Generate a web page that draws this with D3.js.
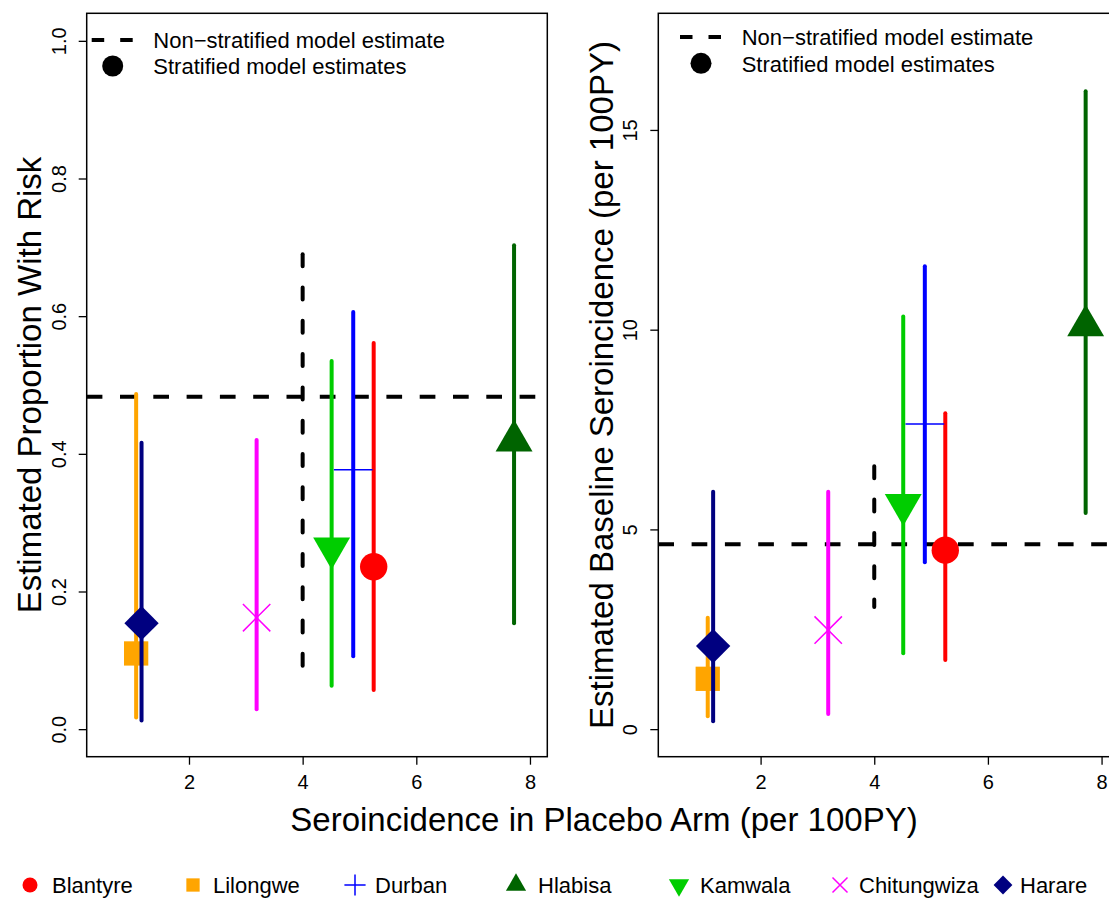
<!DOCTYPE html>
<html><head><meta charset="utf-8">
<script src="https://cdn.jsdelivr.net/npm/d3@7/dist/d3.min.js"></script>
<style>
body{margin:0;background:#fff}
text{font-family:"Liberation Sans",Arial,Helvetica,sans-serif;fill:#000}
</style>
</head><body>
<svg id="chart" width="1109" height="898"></svg>
<script>
// ---------------- data ----------------
const sites = ["Blantyre","Lilongwe","Durban","Hlabisa","Kamwala","Chitungwiza","Harare"];
const siteColors = ["#FF0000","#FFA500","#0000FF","#006400","#00CD00","#FF00FF","#000080"];
const siteShapes = ["circle","square","plus","triangleUp","triangleDown","cross","diamond"];
// seroincidence in placebo arm (per 100PY)
const placeboInc = [5.25, 1.07, 4.89, 7.72, 4.51, 3.19, 1.165];
// left panel: estimated proportion with risk
const propEst = [0.236, 0.110, 0.377, 0.419, 0.263, 0.162, 0.154];
const propLo  = [0.057, 0.017, 0.106, 0.154, 0.063, 0.029, 0.0125];
const propHi  = [0.561, 0.487, 0.606, 0.703, 0.535, 0.420, 0.416];
// right panel: estimated baseline seroincidence
const baseEst = [4.48, 1.26, 7.64, 10.10, 5.62, 2.48, 2.08];
const baseLo  = [1.73, 0.32, 4.18, 5.41, 1.90, 0.38, 0.20];
const baseHi  = [7.91, 2.79, 11.59, 15.97, 10.33, 5.94, 5.94];
// non-stratified model estimate
const overallInc = 4.0;
const propOverall = {est: 0.483, lo: 0.080, hi: 0.690};
const baseOverall = {est: 4.63, lo: 3.06, hi: 6.58};
// tick labels
const xTicks = [2, 4, 6, 8];
const propTicks = [0, 0.2, 0.4, 0.6, 0.8, 1.0];
const baseTicks = [0, 5, 10, 15];
const legendLabels = ["Non\u2212stratified model estimate", "Stratified model estimates"];

// ---------------- layout ----------------
const svg = d3.select("#chart");
svg.append("rect").attr("width",1109).attr("height",898).attr("fill","#fff");

const plotTop = 13.3, plotBottom = 756.7;
const panels = [
  {left: 86.7, right: 547.3, ydom: [-0.04, 1.04], est: propEst, lo: propLo, hi: propHi,
   overall: propOverall, ticks: propTicks, fmt: d3.format(".1f"),
   title: "Estimated Proportion With Risk", titleX: 41, legDashY: 40, legCircY: 66, legTextY: [47.5, 74],
   legDashX: 91.7, legCircX: 112.7, legTextX: 153.3},
  {left: 658.3, right: 1118.9, ydom: [-0.69, 17.92], est: baseEst, lo: baseLo, hi: baseHi,
   overall: baseOverall, ticks: baseTicks, fmt: d3.format("d"),
   title: "Estimated Baseline Seroincidence (per 100PY)", titleX: 613, legDashY: 37, legCircY: 63.3, legTextY: [45, 71.5],
   legDashX: 680, legCircX: 701, legTextX: 741.7}
];

function marker(g, shape, x, y, s, color) {
  if (shape === "circle") {
    g.append("circle").attr("cx", x).attr("cy", y).attr("r", s).attr("fill", color);
  } else if (shape === "square") {
    const h = 0.886 * s;
    g.append("rect").attr("x", x - h).attr("y", y - h).attr("width", 2*h).attr("height", 2*h).attr("fill", color);
  } else if (shape === "plus") {
    const h = 1.414 * s;
    g.append("path").attr("d", `M${x-h},${y}H${x+h}M${x},${y-h}V${y+h}`)
      .attr("stroke", color).attr("stroke-width", 1.5).attr("fill", "none");
  } else if (shape === "cross") {
    g.append("path").attr("d", `M${x-s},${y-s}L${x+s},${y+s}M${x+s},${y-s}L${x-s},${y+s}`)
      .attr("stroke", color).attr("stroke-width", 1.5).attr("fill", "none");
  } else if (shape === "triangleUp") {
    g.append("path").attr("d", `M${x},${y-1.555*s}L${x+1.347*s},${y+0.778*s}L${x-1.347*s},${y+0.778*s}Z`).attr("fill", color);
  } else if (shape === "triangleDown") {
    g.append("path").attr("d", `M${x},${y+1.555*s}L${x+1.347*s},${y-0.778*s}L${x-1.347*s},${y-0.778*s}Z`).attr("fill", color);
  } else if (shape === "diamond") {
    const h = 1.2533 * s;
    g.append("path").attr("d", `M${x-h},${y}L${x},${y-h}L${x+h},${y}L${x},${y+h}Z`).attr("fill", color);
  }
}

panels.forEach((p, pi) => {
  const x = d3.scaleLinear().domain([0.2, 8.305]).range([p.left, p.right]);
  const y = d3.scaleLinear().domain(p.ydom).range([plotBottom, plotTop]);
  const clipId = "clip" + pi;
  svg.append("clipPath").attr("id", clipId).append("rect")
    .attr("x", p.left).attr("y", plotTop).attr("width", p.right - p.left).attr("height", plotBottom - plotTop);
  const g = svg.append("g").attr("clip-path", `url(#${clipId})`);

  // non-stratified estimate: horizontal + vertical dashed
  g.append("line").attr("x1", p.left).attr("x2", p.right)
    .attr("y1", y(p.overall.est)).attr("y2", y(p.overall.est))
    .attr("stroke", "#000").attr("stroke-width", 4).attr("stroke-dasharray", "15.7 17.6");
  g.append("line").attr("x1", x(overallInc)).attr("x2", x(overallInc))
    .attr("y1", y(p.overall.hi)).attr("y2", y(p.overall.lo))
    .attr("stroke", "#000").attr("stroke-width", 4).attr("stroke-dasharray", "12 21.3").attr("stroke-linecap","round");

  // stratified estimates
  sites.forEach((s, i) => {
    g.append("line").attr("x1", x(placeboInc[i])).attr("x2", x(placeboInc[i]))
      .attr("y1", y(p.lo[i])).attr("y2", y(p.hi[i]))
      .attr("stroke", siteColors[i]).attr("stroke-width", 4).attr("stroke-linecap", "round");
    marker(g, siteShapes[i], x(placeboInc[i]), y(p.est[i]), 13.7, siteColors[i]);
  });

  // box
  svg.append("rect").attr("x", p.left).attr("y", plotTop).attr("width", p.right - p.left).attr("height", plotBottom - plotTop)
    .attr("fill", "none").attr("stroke", "#000").attr("stroke-width", 1.5);

  // axes
  const ya = svg.append("g").attr("transform", `translate(${p.left},0)`)
    .call(d3.axisLeft(y).tickValues(p.ticks).tickFormat(p.fmt).tickSize(8).tickSizeOuter(0));
  ya.select(".domain").remove();
  ya.selectAll(".tick line").attr("stroke", "#000").attr("stroke-width", 1.3);
  ya.selectAll(".tick text").attr("x", null).attr("dy", null).attr("y", 0)
    .attr("transform", "translate(-21,0) rotate(-90)").attr("text-anchor", "middle")
    .attr("font-size", 20).attr("font-family", "Liberation Sans, Arial, sans-serif").attr("fill", "#000");

  const xa = svg.append("g").attr("transform", `translate(0,${plotBottom})`)
    .call(d3.axisBottom(x).tickValues(xTicks).tickFormat(d3.format("d")).tickSize(8).tickSizeOuter(0));
  xa.select(".domain").remove();
  xa.selectAll(".tick line").attr("stroke", "#000").attr("stroke-width", 1.3);
  xa.selectAll(".tick text").attr("y", 32.6).attr("dy", null)
    .attr("font-size", 20).attr("font-family", "Liberation Sans, Arial, sans-serif").attr("fill", "#000");

  // y title
  svg.append("text").attr("transform", `translate(${p.titleX},${(plotTop+plotBottom)/2}) rotate(-90)`)
    .attr("text-anchor", "middle").attr("font-size", 33).text(p.title);

  // in-panel legend
  svg.append("line").attr("x1", p.legDashX).attr("x2", p.legDashX + 41)
    .attr("y1", p.legDashY).attr("y2", p.legDashY)
    .attr("stroke", "#000").attr("stroke-width", 4).attr("stroke-dasharray", "12.5 16");
  svg.append("circle").attr("cx", p.legCircX).attr("cy", p.legCircY).attr("r", 10.5).attr("fill", "#000");
  legendLabels.forEach((t, k) => {
    svg.append("text").attr("x", p.legTextX).attr("y", p.legTextY[k]).attr("font-size", 22).text(t);
  });
});

// x title
svg.append("text").attr("x", 604).attr("y", 831).attr("text-anchor", "middle")
  .attr("font-size", 33).text("Seroincidence in Placebo Arm (per 100PY)");

// bottom legend
const legMarkX = [30, 193, 355, 516, 679, 840, 1003];
const legTextX = [52, 213, 375, 538, 700, 859, 1020];
const lg = svg.append("g");
sites.forEach((s, i) => {
  marker(lg, siteShapes[i], legMarkX[i], 885, 7.5, siteColors[i]);
  lg.append("text").attr("x", legTextX[i]).attr("y", 893).attr("font-size", 22).text(s);
});
</script>
</body></html>
